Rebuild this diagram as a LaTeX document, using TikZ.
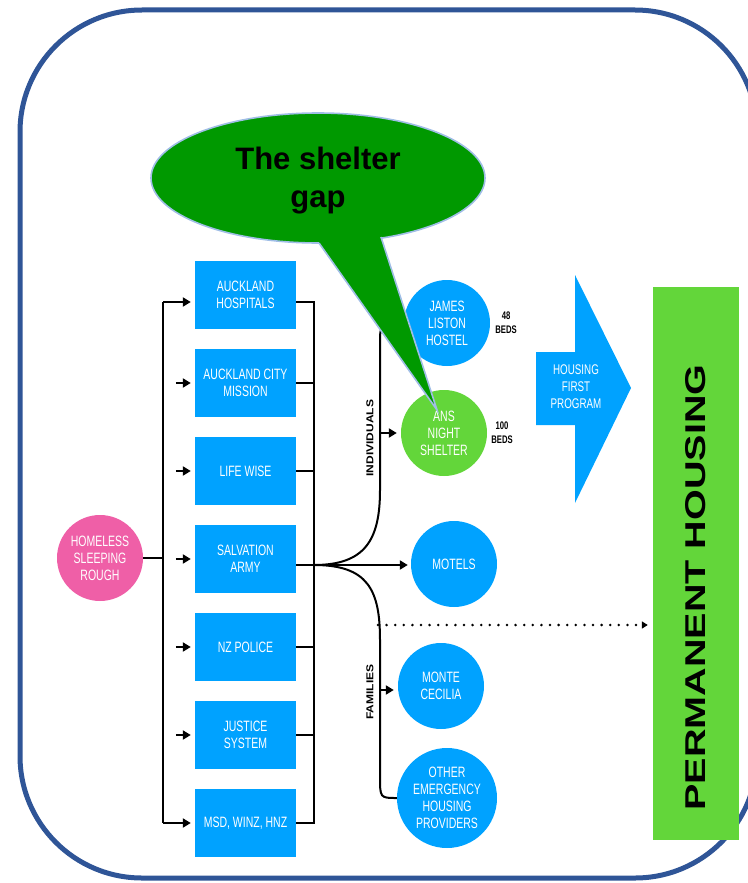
\documentclass[tikz,border=0pt]{standalone}
\usepackage{fontspec}
\setmainfont{Liberation Sans}
\newfontfamily\narrowfont[FakeStretch = 0.7]{Liberation Sans}
\newfontfamily\wideboldfont[FakeStretch = 1.2]{Liberation Sans}
\usepackage{tikz}
\usetikzlibrary{arrows.meta}
\usetikzlibrary{positioning}
\tikzset{agency/.style = {fill = mblue, minimum width = 101, minimum height = 68, inner sep = 0, text = white, align = center, font = \narrowfont\fontsize{15}{17}\selectfont}}
\tikzset{refuge/.style = {circle, fill = mblue, minimum size = 86, inner sep = 0, text = white, align = center, font = \narrowfont\fontsize{15}{17}\selectfont}}
\tikzset{beds/.style = {inner sep = 0, align = center, font = \narrowfont\bfseries\fontsize{11}{14}\selectfont}}
\tikzset{sidelabel/.style = {rotate = 90, inner sep = 0, font = \wideboldfont\bfseries\fontsize{10}{10}\selectfont}}
\tikzset{bar/.style = {line width = 2.7}}
\tikzset{branch/.style = {line width = 2}}
\tikzset{link/.style = {line width = 2.6, -{Triangle[length = 8pt, width = 9pt]}, shorten > = 4pt}}
\definecolor{mblue}{RGB}{0, 162, 255}
\definecolor{mpink}{RGB}{239, 95, 167}
\definecolor{mlime}{RGB}{99, 214, 58}
\definecolor{mgreen}{RGB}{0, 153, 0}
\definecolor{mframe}{RGB}{47, 85, 151}
\definecolor{medge}{RGB}{160, 190, 230}

\begin{document}
\begin{tikzpicture}[x = 1pt, y = -1pt]
      \useasboundingbox (0, 0) rectangle (747, 883);
      \draw [mframe, line width = 5, rounded corners = 122] (20, 10) rectangle (757, 878);

      \node [refuge, fill = mpink] (homeless) at (100, 558) {HOMELESS\\SLEEPING\\ROUGH};

      \node [agency] (hosp) at (245.5, 295) {AUCKLAND\\HOSPITALS};
      \node [agency] (mission) at (245.5, 383) {AUCKLAND CITY\\MISSION};
      \node [agency] (lifewise) at (245.5, 471) {LIFE WISE};
      \node [agency] (salvation) at (245.5, 559) {SALVATION\\ARMY};
      \node [agency] (police) at (245.5, 647) {NZ POLICE};
      \node [agency] (justice) at (245.5, 735) {JUSTICE\\SYSTEM};
      \node [agency] (msd) at (245.5, 823) {MSD, WINZ, HNZ};

      \coordinate (ltop) at (163, 302);
      \coordinate (lbot) at (163, 823);
      \draw [bar] (ltop) -- (lbot);
      \draw [bar] (homeless) -- (homeless -| ltop);
      \draw [link] (ltop) -- ([yshift = -7pt]hosp.west);
      \draw [link] (lbot) -- (msd.west);
      \draw [link] ([xshift = -19pt]mission.west) -- (mission.west);
      \draw [link] ([xshift = -19pt]lifewise.west) -- (lifewise.west);
      \draw [link] ([xshift = -19pt]salvation.west) -- (salvation.west);
      \draw [link] ([xshift = -19pt]police.west) -- (police.west);
      \draw [link] ([xshift = -19pt]justice.west) -- (justice.west);

      \coordinate (rtop) at (314, 302);
      \coordinate (rbot) at (314, 823);
      \coordinate (hub) at (314, 565);
      \draw [bar] ([yshift = -7pt]hosp.east) -- (rtop) -- (rbot) -- (msd.east);
      \draw [bar] (mission.east) -- (mission.east -| rtop);
      \draw [bar] (lifewise.east) -- (lifewise.east -| rtop);
      \draw [bar] ([yshift = -6pt]salvation.east) -- (hub);
      \draw [bar] (police.east) -- (police.east -| rtop);
      \draw [bar] (justice.east) -- (justice.east -| rtop);

      \node [refuge] (james) at (447, 323) {JAMES\\LISTON\\HOSTEL};
      \node [refuge, fill = mlime] (ans) at (444, 433) {ANS\\NIGHT\\SHELTER};
      \node [refuge] (motels) at (454, 564) {MOTELS};
      \node [refuge] (monte) at (441, 686) {MONTE\\CECILIA};
      \node [refuge, minimum size = 100] (other) at (447, 798) {OTHER\\EMERGENCY\\HOUSING\\PROVIDERS};

      \node [beds, right = 5pt of james] (beds48) {48\\BEDS};
      \node [beds, right = 4pt of ans] (beds100) {100\\BEDS};

      \coordinate (indiv) at (380, 433);
      \coordinate (fam) at (380, 690);
      \coordinate (dots) at (378, 625);
      \draw [branch] (hub) .. controls (365, 565) and (380, 540) .. (380, 490) -- (380, 345) .. controls (380, 323) .. (james.west);
      \draw [link] (indiv) -- (indiv -| ans.west);
      \draw [branch] (hub) .. controls (368, 565) and (380, 590) .. (380, 640) -- (380, 776) .. controls (380, 798) .. (other.west);
      \draw [link] (fam) -- (fam -| monte.west);
      \draw [link, shorten > = 3pt] (hub) -- (hub -| motels.west);

      \node [sidelabel] (individuals) at (370, 438) {INDIVIDUALS};
      \node [sidelabel] (families) at (370, 692) {FAMILIES};

      \fill [mblue] (536, 352) -- (575, 352) -- (575, 275) -- (631, 388) -- (575, 503) -- (575, 425) -- (536, 425) -- cycle;
      \node [inner sep = 0, text = white, align = center, font = \narrowfont\fontsize{14}{17}\selectfont] (hfp) at (576, 387) {HOUSING\\FIRST\\PROGRAM};

      \node [fill = mlime, minimum width = 86, minimum height = 553, inner sep = 0] (perm) at (696, 563.5) {};
      \node [rotate = 90, inner sep = 0] (permtext) at (695.5, 587.5) {\resizebox{446pt}{20pt}{\bfseries PERMANENT HOUSING}};
      \draw [line width = 2.8, line cap = round, dash pattern = on 0pt off 8.6pt, -{Triangle[length = 6pt, width = 7pt]}, shorten > = 5pt] (dots) -- (dots -| perm.west);

      \fill [mgreen] (318, 178) ellipse [x radius = 167, y radius = 65];
      \draw [medge, line width = 1.6] (318, 178) ellipse [x radius = 167, y radius = 65];
      \fill [mgreen] (319, 243) -- (437, 410) -- (381, 237) -- (381, 220) -- (319, 220) -- cycle;
      \draw [medge, line width = 1.6] (319, 243) -- (437, 410) -- (381, 237);
      \node [inner sep = 0, align = center, font = \bfseries\fontsize{31}{38}\selectfont] (gap) at (318, 181) {The shelter\\gap};
\end{tikzpicture}
\end{document}
